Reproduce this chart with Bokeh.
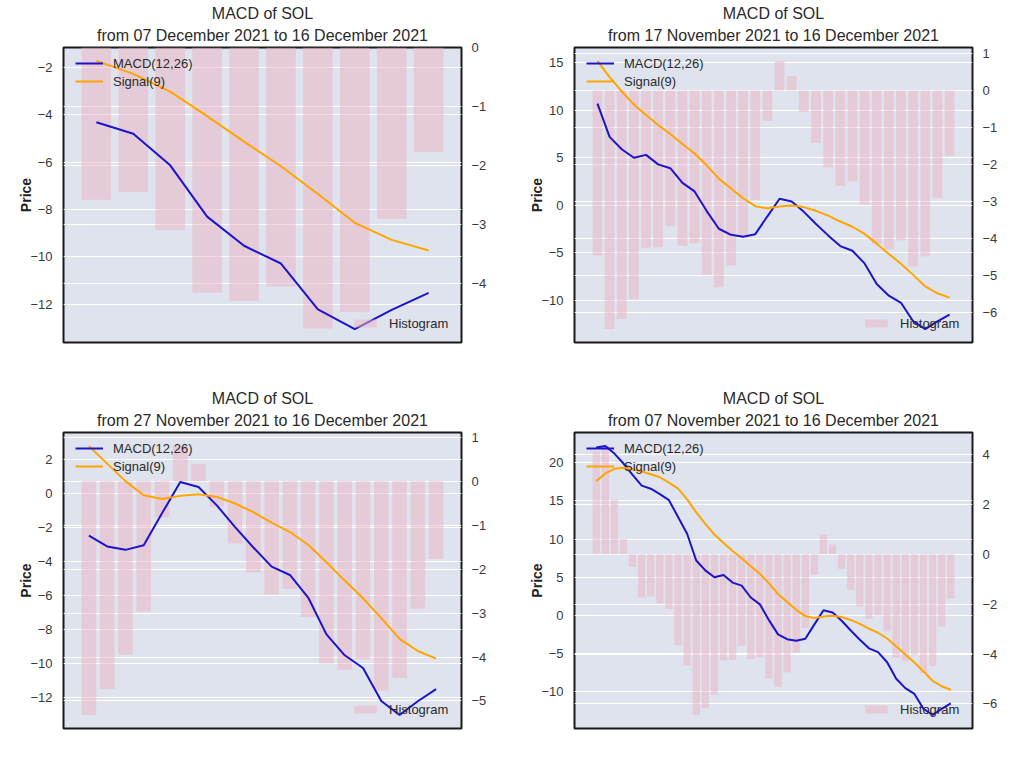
from bokeh.plotting import figure
from bokeh.models import Range1d, LinearAxis, FixedTicker, Grid, Legend, LegendItem, Title, Spacer
from bokeh.layouts import column, row
from bokeh.embed import file_html
from bokeh.resources import INLINE

# ---- data: daily MACD of SOL, 07 Nov 2021 .. 16 Dec 2021 (40 days) ----
macd = [22.0, 22.2, 21.2, 19.9, 18.4, 17.0, 16.6, 15.9, 15.1, 12.9,
        10.7, 7.2, 5.9, 5.0, 5.3, 4.3, 3.9, 2.35, 1.45, -0.62,
        -2.48, -3.12, -3.32, -3.05, -1.17, 0.68, 0.38, -0.70, -1.98, -3.18,
        -4.31, -4.80, -6.13, -8.30, -9.53, -10.28, -12.22, -13.05, -12.24, -11.52]
signal = [17.6, 18.6, 19.2, 19.35, 19.15, 18.85, 18.5, 18.1, 17.4, 16.6,
          15.2, 13.5, 12.0, 10.6, 9.5, 8.45, 7.5, 6.45, 5.45, 4.2,
          2.80, 1.76, 0.73, -0.10, -0.33, -0.14, -0.04, -0.20, -0.59, -1.10,
          -1.72, -2.27, -3.02, -4.05, -5.13, -6.17, -7.34, -8.56, -9.28, -9.73]
hist = [4.15, 4.35, 2.2, 0.62, -0.5, -1.73, -1.69, -1.96, -2.19, -3.65,
        -4.46, -6.45, -6.18, -5.64, -4.25, -4.24, -3.67, -4.20, -4.13, -4.98,
        -5.32, -4.73, -3.95, -2.96, -0.82, 0.80, 0.39, -0.58, -1.42, -2.08,
        -2.58, -2.45, -3.09, -4.15, -4.29, -4.05, -4.76, -4.48, -2.90, -1.77]

panel_days = [10, 30, 20, 40]
title_line1 = "MACD of SOL"
panel_titles = ["from 07 December 2021 to 16 December 2021",
                "from 17 November 2021 to 16 December 2021",
                "from 27 November 2021 to 16 December 2021",
                "from 07 November 2021 to 16 December 2021"]
left_ticks = [[-12, -10, -8, -6, -4, -2],
              [-10, -5, 0, 5, 10, 15],
              [-12, -10, -8, -6, -4, -2, 0, 2],
              [-10, -5, 0, 5, 10, 15, 20]]
right_ticks = [[-4, -3, -2, -1, 0],
               [-6, -5, -4, -3, -2, -1, 0, 1],
               [-5, -4, -3, -2, -1, 0, 1],
               [-6, -4, -2, 0, 2, 4]]
macd_label = "MACD(12,26)"
signal_label = "Signal(9)"
hist_label = "Histogram"

FONT = "Liberation Sans"
BG = "#dfe3ed"
BLUE = "#1c14c8"
ORANGE = "#ffa500"
PINK = "#ecb2c4"


def margins(lo, hi, sticky=None):
    span = hi - lo
    a, b = lo - 0.05 * span, hi + 0.05 * span
    if sticky is not None:
        if lo >= sticky and a < sticky:
            a = sticky
        if hi <= sticky and b > sticky:
            b = sticky
    return a, b


def make_panel(k, right_border, bottom_border, frame_h):
    n = panel_days[k]
    m = macd[-n:]
    s = signal[-n:]
    h = hist[-n:]
    xs = list(range(n))

    x0, x1 = margins(-0.4, n - 0.6)
    y0, y1 = margins(min(min(m), min(s)), max(max(m), max(s)))
    h0, h1 = margins(min(min(h), 0), max(max(h), 0), sticky=0)

    p = figure(frame_width=398, frame_height=frame_h,
               x_range=Range1d(x0, x1), y_range=Range1d(y0, y1),
               output_backend="svg", toolbar_location=None,
               min_border_left=0, min_border_right=right_border,
               min_border_top=0, min_border_bottom=bottom_border,
               background_fill_color=BG, border_fill_color="white")
    p.extra_y_ranges = {"hist": Range1d(h0, h1)}

    p.outline_line_color = "#1a1a1a"
    p.outline_line_width = 2
    p.xaxis.visible = False
    p.xgrid.visible = False

    ya = p.yaxis[0]
    ya.ticker = FixedTicker(ticks=left_ticks[k])
    ya.axis_label = "Price"
    ya.axis_label_text_font = FONT
    ya.axis_label_text_font_style = "bold"
    ya.axis_label_text_font_size = "14px"
    ya.axis_label_text_color = "#222222"
    ya.axis_label_standoff = -7
    ya.major_label_text_font = FONT
    ya.major_label_text_font_size = "13px"
    ya.major_label_text_color = "#3a3a3a"
    ya.major_label_standoff = 5
    ya.axis_line_color = None
    ya.major_tick_line_color = None
    ya.minor_tick_line_color = None

    p.ygrid.ticker = FixedTicker(ticks=left_ticks[k])
    p.ygrid.grid_line_color = "white"
    p.ygrid.grid_line_width = 1.2

    ra = LinearAxis(y_range_name="hist", ticker=FixedTicker(ticks=right_ticks[k]))
    ra.major_label_overrides = {t: str(t).replace("-", "\u2212") for t in right_ticks[k]}
    ra.major_label_text_font = FONT
    ra.major_label_text_font_size = "13px"
    ra.major_label_text_color = "#3a3a3a"
    ra.major_label_standoff = 4
    ra.axis_line_color = None
    ra.major_tick_line_color = None
    ra.minor_tick_line_color = None
    p.add_layout(ra, "right")

    g2 = Grid(dimension=1, ticker=FixedTicker(ticks=right_ticks[k]),
              y_range_name="hist", grid_line_color="white", grid_line_width=1.2)
    p.add_layout(g2)

    rb = p.vbar(x=xs, top=h, bottom=0, width=0.8, y_range_name="hist",
                fill_color=PINK, fill_alpha=0.5, line_color=None)
    rm = p.line(xs, m, line_color=BLUE, line_width=2)
    rs = p.line(xs, s, line_color=ORANGE, line_width=2)

    leg1 = Legend(items=[LegendItem(label=macd_label, renderers=[rm]),
                         LegendItem(label=signal_label, renderers=[rs])],
                  location=(12, frame_h - 42))
    leg2 = Legend(items=[LegendItem(label=hist_label, renderers=[rb])],
                  location=(288, 11))
    for lg, gh in ((leg1, 16), (leg2, 10)):
        lg.background_fill_alpha = 0
        lg.border_line_color = None
        lg.padding = 0
        lg.margin = 0
        lg.spacing = 2
        lg.glyph_width = 28
        lg.glyph_height = gh
        lg.label_height = 16
        lg.label_standoff = 10
        lg.label_text_font = FONT
        lg.label_text_font_size = "13px"
        lg.label_text_color = "#2a2a2a"
        p.add_layout(lg)

    p.add_layout(Title(text=panel_titles[k], align="center", text_font=FONT,
                       text_font_size="16px", text_font_style="normal",
                       text_color="#2a2a2a", standoff=7), "above")
    p.add_layout(Title(text=title_line1, align="center", text_font=FONT,
                       text_font_size="16px", text_font_style="normal",
                       text_color="#2a2a2a", standoff=0), "above")
    return p


p1 = make_panel(0, 65, 45, 295)
p2 = make_panel(1, 42, 45, 295)
p3 = make_panel(2, 65, 20, 296)
p4 = make_panel(3, 42, 20, 296)

layout = column(Spacer(height=2),
                row(Spacer(width=15), p1, p2),
                row(Spacer(width=15), p3, p4))
open("out.html", "w").write(file_html(layout, INLINE))
